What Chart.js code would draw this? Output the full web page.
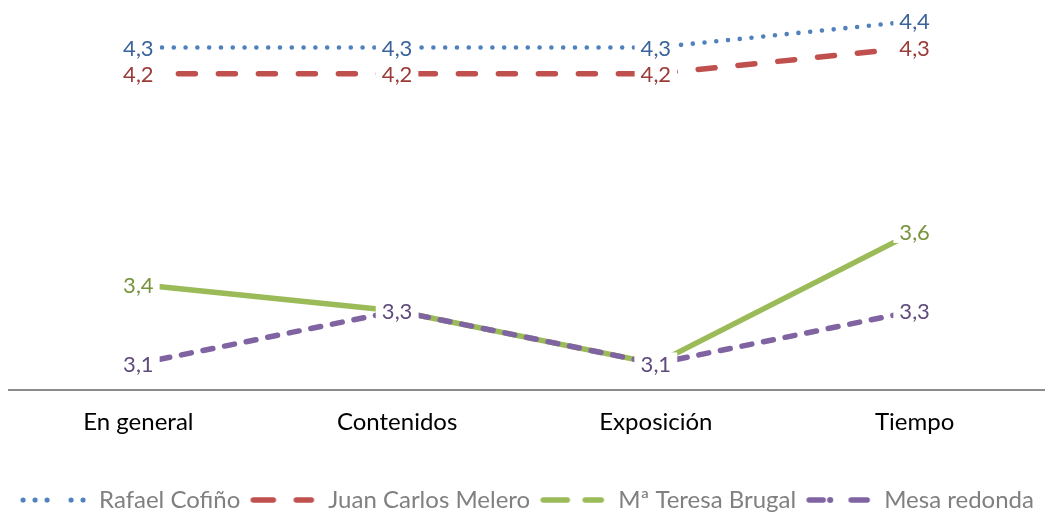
<!DOCTYPE html>
<html>
<head>
<meta charset="utf-8">
<script src="https://cdn.jsdelivr.net/npm/chart.js@4.4.1/dist/chart.umd.min.js"></script>
<style>
  html, body { margin: 0; padding: 0; background: #ffffff; }
  #wrap { width: 1064px; height: 512px; position: relative; }
</style>
</head>
<body>
<div id="wrap"><canvas id="c" width="1064" height="512"></canvas></div>
<script>
const categories = ['En general', 'Contenidos', 'Exposición', 'Tiempo'];
const seriesNames = ['Rafael Cofiño', 'Juan Carlos Melero', 'Mª Teresa Brugal', 'Mesa redonda'];
const rafael = [4.3, 4.3, 4.3, 4.4];
const juan = [4.2, 4.2, 4.2, 4.3];
const teresa = [3.4, 3.3, 3.1, 3.6];
const mesa = [3.1, 3.3, 3.1, 3.3];

const lineColors = ['#4F81BD', '#C0504D', '#9BBB59', '#8064A2'];
const labelColors = ['#3A639A', '#9B3B38', '#77933C', '#5F4A7E'];

function sample(color, segs, width) {
  const c = document.createElement('canvas');
  c.width = 66; c.height = 8;
  const g = c.getContext('2d');
  g.strokeStyle = color; g.fillStyle = color;
  g.lineWidth = width; g.lineCap = 'round';
  segs.forEach(s => {
    if (s[0] === s[1]) {
      g.beginPath(); g.arc(s[0], 4, width / 2 + 0.3, 0, Math.PI * 2); g.fill();
    } else {
      g.beginPath(); g.moveTo(s[0], 4); g.lineTo(s[1], 4); g.stroke();
    }
  });
  return c;
}
const samples = [
  sample(lineColors[0], [[3,3],[15,15],[27,27],[51,51],[63,63]], 4.5),
  sample(lineColors[1], [[4,24],[47,62]], 5.5),
  sample(lineColors[2], [[4,28],[46,62]], 5.5),
  sample(lineColors[3], [[4,18],[25,25],[46,62]], 5.5)
];

const dataLabels = {
  id: 'dataLabels',
  afterDatasetsDraw(chart) {
    const ctx = chart.ctx;
    ctx.save();
    ctx.font = '22px Lato';
    ctx.textAlign = 'center';
    ctx.textBaseline = 'middle';
    chart.data.datasets.forEach((ds, i) => {
      const meta = chart.getDatasetMeta(i);
      meta.data.forEach((pt, j) => {
        const txt = ds.data[j].toFixed(1).replace('.', ',');
        const w = ctx.measureText(txt).width;
        ctx.fillStyle = '#ffffff';
        ctx.fillRect(pt.x - w / 2 - 6, pt.y - 11, w + 12, 22);
        ctx.fillStyle = labelColors[i];
        ctx.fillText(txt, pt.x, pt.y + 1);
      });
    });
    ctx.restore();
  }
};

new Chart(document.getElementById('c'), {
  type: 'line',
  data: {
    labels: categories,
    datasets: [
      { label: seriesNames[0], data: rafael, borderColor: lineColors[0], borderWidth: 4.6,
        borderDash: [0, 11.8], borderCapStyle: 'round', order: 1 },
      { label: seriesNames[1], data: juan, borderColor: lineColors[1], borderWidth: 5.5,
        borderDash: [17, 23], borderCapStyle: 'round', order: 2 },
      { label: seriesNames[2], data: teresa, borderColor: lineColors[2], borderWidth: 5.5,
        borderCapStyle: 'butt', order: 4 },
      { label: seriesNames[3], data: mesa, borderColor: lineColors[3], borderWidth: 5.5,
        borderDash: [10, 12], borderCapStyle: 'round', order: 3 }
    ]
  },
  options: {
    responsive: false,
    animation: false,
    devicePixelRatio: 1,
    layout: { padding: { left: 9, right: 20, top: 0, bottom: -10 } },
    elements: { point: { radius: 0, hoverRadius: 0 }, line: { tension: 0, fill: false } },
    plugins: {
      tooltip: { enabled: false },
      legend: {
        position: 'bottom',
        labels: {
          usePointStyle: true,
          pointStyleWidth: 68,
          padding: 8,
          color: '#808080',
          font: { family: 'Lato', size: 24 },
          generateLabels(chart) {
            return chart.data.datasets.map((ds, i) => ({
              text: ds.label, pointStyle: samples[i], fillStyle: 'transparent',
              strokeStyle: 'transparent', lineWidth: 0, datasetIndex: i, fontColor: '#808080'
            }));
          }
        }
      }
    },
    scales: {
      x: {
        offset: true,
        grid: { display: false, drawTicks: false },
        border: { display: true, color: '#8C8C8C', width: 2 },
        ticks: { color: '#000000', font: { family: 'Lato', size: 24 }, padding: 18 },
        afterFit(scale) { scale.height = 90; }
      },
      y: { display: false, min: 3.0, max: 4.48 }
    }
  },
  plugins: [dataLabels]
});
</script>
</body>
</html>
